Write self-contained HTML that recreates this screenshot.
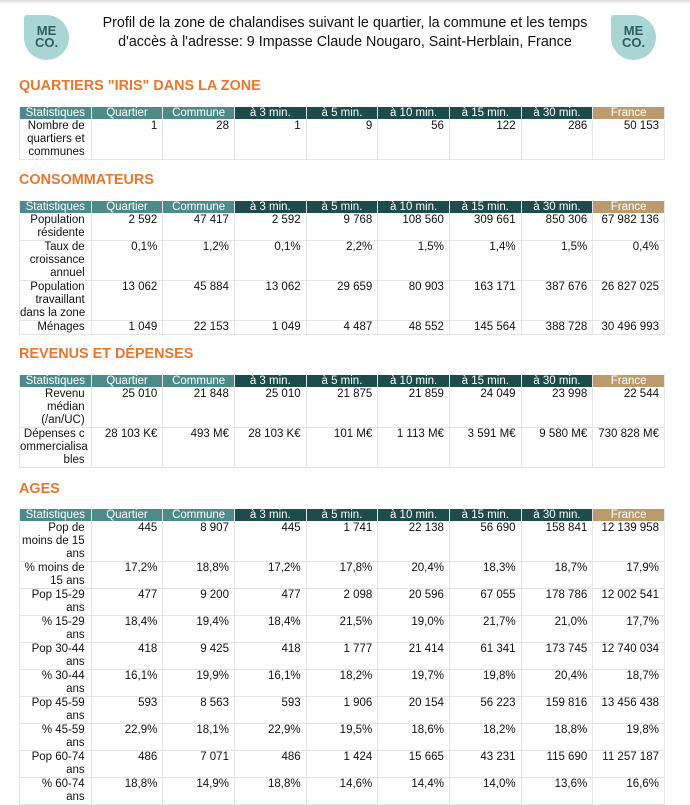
<!DOCTYPE html>
<html><head><meta charset="utf-8"><style>
body{margin:0;width:690px;height:799px;overflow:hidden;background:#fff;font-family:"Liberation Sans",Arial,sans-serif;position:relative}
.shadow{position:absolute;left:0;top:0;width:690px;height:4px;background:linear-gradient(#d8d8d8,#fff)}
.title{position:absolute;left:80px;width:530px;top:14px;text-align:center;font-size:14.3px;line-height:19px;color:#111}
.logo{position:absolute;top:15px;width:45px;height:45px;background:#a9d6d5;border-radius:3px 23px 23px 23px;color:#2d5d5f;font-weight:bold;font-size:13px;line-height:12px;text-align:center;padding-top:10px;box-sizing:border-box}
h2{position:absolute;left:19px;margin:0;font-size:14.4px;color:#e8772e;font-weight:bold}
table{position:absolute;left:19px;width:646px;border-collapse:collapse;table-layout:fixed;font-size:11.5px;line-height:13px}
td,th{border:1.5px solid #e2e4e8;padding:0 5px 0 2px;text-align:right;vertical-align:top;color:#111;font-weight:normal}
td:first-child{padding:0 6px 0 0;white-space:nowrap;overflow:visible}
th{color:#fff;text-align:center;height:12px;line-height:12px;border-color:#fff #e2e4e8;padding:0}
th.a{background:#4f8a8b}th.b{background:#1e4b4b}th.c{background:#bb9b6c}
</style></head><body>
<div class="shadow"></div>
<div class="logo" style="left:24px">ME<br>CO.</div>
<div class="logo" style="left:611px">ME<br>CO.</div>
<div class="title">Profil de la zone de chalandises suivant le quartier, la commune et les temps<br>d'accès à l'adresse: 9 Impasse Claude Nougaro, Saint-Herblain, France</div>

<h2 style="top:78px">QUARTIERS "IRIS" DANS LA ZONE</h2>
<table style="top:106px">
<tr><th class="a">Statistiques</th><th class="a">Quartier</th><th class="a">Commune</th><th class="b">à 3 min.</th><th class="b">à 5 min.</th><th class="b">à 10 min.</th><th class="b">à 15 min.</th><th class="b">à 30 min.</th><th class="c">France</th></tr>
<tr><td>Nombre de<br>quartiers et<br>communes</td><td>1</td><td>28</td><td>1</td><td>9</td><td>56</td><td>122</td><td>286</td><td>50 153</td></tr>
</table>

<h2 style="top:172px">CONSOMMATEURS</h2>
<table style="top:200px">
<tr><th class="a">Statistiques</th><th class="a">Quartier</th><th class="a">Commune</th><th class="b">à 3 min.</th><th class="b">à 5 min.</th><th class="b">à 10 min.</th><th class="b">à 15 min.</th><th class="b">à 30 min.</th><th class="c">France</th></tr>
<tr><td>Population<br>résidente</td><td>2 592</td><td>47 417</td><td>2 592</td><td>9 768</td><td>108 560</td><td>309 661</td><td>850 306</td><td>67 982 136</td></tr>
<tr><td>Taux de<br>croissance<br>annuel</td><td>0,1%</td><td>1,2%</td><td>0,1%</td><td>2,2%</td><td>1,5%</td><td>1,4%</td><td>1,5%</td><td>0,4%</td></tr>
<tr><td>Population<br>travaillant<br>dans la zone</td><td>13 062</td><td>45 884</td><td>13 062</td><td>29 659</td><td>80 903</td><td>163 171</td><td>387 676</td><td>26 827 025</td></tr>
<tr><td>Ménages</td><td>1 049</td><td>22 153</td><td>1 049</td><td>4 487</td><td>48 552</td><td>145 564</td><td>388 728</td><td>30 496 993</td></tr>
</table>

<h2 style="top:346px">REVENUS ET DÉPENSES</h2>
<table style="top:374px">
<tr><th class="a">Statistiques</th><th class="a">Quartier</th><th class="a">Commune</th><th class="b">à 3 min.</th><th class="b">à 5 min.</th><th class="b">à 10 min.</th><th class="b">à 15 min.</th><th class="b">à 30 min.</th><th class="c">France</th></tr>
<tr><td>Revenu<br>médian<br>(/an/UC)</td><td>25 010</td><td>21 848</td><td>25 010</td><td>21 875</td><td>21 859</td><td>24 049</td><td>23 998</td><td>22 544</td></tr>
<tr><td>Dépenses c<br>ommercialisa<br>bles</td><td>28 103 K€</td><td>493 M€</td><td>28 103 K€</td><td>101 M€</td><td>1 113 M€</td><td>3 591 M€</td><td>9 580 M€</td><td>730 828 M€</td></tr>
</table>

<h2 style="top:481px">AGES</h2>
<table style="top:508px">
<tr><th class="a">Statistiques</th><th class="a">Quartier</th><th class="a">Commune</th><th class="b">à 3 min.</th><th class="b">à 5 min.</th><th class="b">à 10 min.</th><th class="b">à 15 min.</th><th class="b">à 30 min.</th><th class="c">France</th></tr>
<tr><td>Pop de<br>moins de 15<br>ans</td><td>445</td><td>8 907</td><td>445</td><td>1 741</td><td>22 138</td><td>56 690</td><td>158 841</td><td>12 139 958</td></tr>
<tr><td>% moins de<br>15 ans</td><td>17,2%</td><td>18,8%</td><td>17,2%</td><td>17,8%</td><td>20,4%</td><td>18,3%</td><td>18,7%</td><td>17,9%</td></tr>
<tr><td>Pop 15-29<br>ans</td><td>477</td><td>9 200</td><td>477</td><td>2 098</td><td>20 596</td><td>67 055</td><td>178 786</td><td>12 002 541</td></tr>
<tr><td>% 15-29<br>ans</td><td>18,4%</td><td>19,4%</td><td>18,4%</td><td>21,5%</td><td>19,0%</td><td>21,7%</td><td>21,0%</td><td>17,7%</td></tr>
<tr><td>Pop 30-44<br>ans</td><td>418</td><td>9 425</td><td>418</td><td>1 777</td><td>21 414</td><td>61 341</td><td>173 745</td><td>12 740 034</td></tr>
<tr><td>% 30-44<br>ans</td><td>16,1%</td><td>19,9%</td><td>16,1%</td><td>18,2%</td><td>19,7%</td><td>19,8%</td><td>20,4%</td><td>18,7%</td></tr>
<tr><td>Pop 45-59<br>ans</td><td>593</td><td>8 563</td><td>593</td><td>1 906</td><td>20 154</td><td>56 223</td><td>159 816</td><td>13 456 438</td></tr>
<tr><td>% 45-59<br>ans</td><td>22,9%</td><td>18,1%</td><td>22,9%</td><td>19,5%</td><td>18,6%</td><td>18,2%</td><td>18,8%</td><td>19,8%</td></tr>
<tr><td>Pop 60-74<br>ans</td><td>486</td><td>7 071</td><td>486</td><td>1 424</td><td>15 665</td><td>43 231</td><td>115 690</td><td>11 257 187</td></tr>
<tr><td>% 60-74<br>ans</td><td>18,8%</td><td>14,9%</td><td>18,8%</td><td>14,6%</td><td>14,4%</td><td>14,0%</td><td>13,6%</td><td>16,6%</td></tr>
</table>
</body></html>
